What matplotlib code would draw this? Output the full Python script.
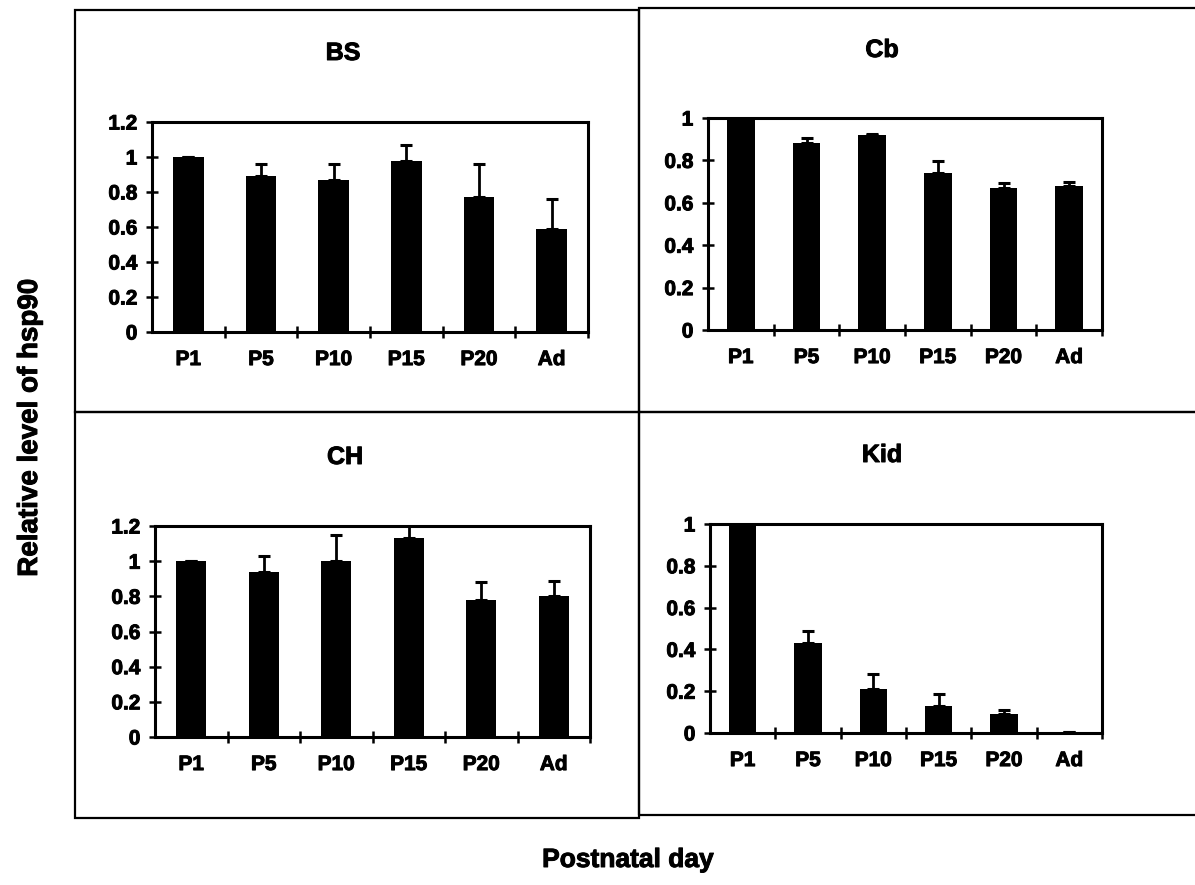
import matplotlib
matplotlib.use('Agg')
import matplotlib.pyplot as plt
import matplotlib.patheffects as pe
import numpy as np
from matplotlib.patches import Rectangle

plt.rcParams['font.family'] = ['Liberation Sans', 'DejaVu Sans']
plt.rcParams['font.weight'] = 'bold'

days = ['P1', 'P5', 'P10', 'P15', 'P20', 'Ad']

bs_vals = [1.0, 0.89, 0.87, 0.98, 0.77, 0.59]
bs_err = [0.0, 0.07, 0.09, 0.09, 0.19, 0.17]

cb_vals = [1.0, 0.88, 0.92, 0.74, 0.67, 0.68]
cb_err = [0.0, 0.025, 0.005, 0.055, 0.025, 0.02]

ch_vals = [1.0, 0.94, 1.0, 1.13, 0.78, 0.80]
ch_err = [0.0, 0.09, 0.15, 0.09, 0.10, 0.09]

kid_vals = [1.0, 0.43, 0.21, 0.13, 0.09, 0.005]
kid_err = [0.0, 0.06, 0.07, 0.055, 0.02, 0.0]

W, H = 1195, 885
fig = plt.figure(figsize=(W / 100, H / 100), dpi=100)


def px_axes(left, right, top, bottom):
    return fig.add_axes([left / W, 1 - bottom / H, (right - left) / W, (bottom - top) / H])


def box(left, right, top, bottom):
    fig.patches.append(Rectangle((left / W, 1 - bottom / H), (right - left) / W, (bottom - top) / H,
                                 transform=fig.transFigure, fill=False, edgecolor='black',
                                 linewidth=1.6))


box(75, 639, 10, 412)
box(639, 1198, 8, 412)
box(75, 639, 412, 818)
box(639, 1198, 412, 815)

# name, values, errors, y max, axes box in pixels, title position in pixels
panels = [
    ('BS', bs_vals, bs_err, 1.2, (152, 588, 122, 332), (343, 53)),
    ('Cb', cb_vals, cb_err, 1.0, (708, 1102, 118, 330), (882, 50)),
    ('CH', ch_vals, ch_err, 1.2, (155, 590, 526, 737), (345, 457)),
    ('Kid', kid_vals, kid_err, 1.0, (710, 1102, 524, 733), (882, 455)),
]

x = np.arange(len(days))
for name, vals, err, ymax, pos, tpos in panels:
    ax = px_axes(*pos)
    ax.bar(x, vals, width=0.42, color='black')
    ax.errorbar(x, vals, yerr=[np.zeros(len(err)), err], fmt='none', ecolor='black',
                elinewidth=2, capsize=4.5, capthick=2.2)
    ax.set_xlim(-0.5, len(days) - 0.5)
    ax.set_ylim(0, ymax)
    yt = np.arange(0, ymax + 0.01, 0.2)
    ax.set_yticks(yt)
    ax.set_yticklabels(['0' if v == 0 else ('1' if abs(v - 1) < 1e-9 else f'{v:.1f}') for v in yt])
    ax.set_xticks(np.arange(0.5, len(days) - 0.4, 1.0))
    ax.set_xticklabels([])
    ax.set_xticks(x, minor=True)
    ax.set_xticklabels(days, minor=True)
    ax.tick_params(axis='x', which='minor', length=0, pad=13, labelsize=15)
    ax.tick_params(axis='x', which='major', direction='inout', length=9, width=1.8)
    ax.tick_params(axis='y', direction='inout', length=9, width=1.8, pad=6, labelsize=15)
    for s in ax.spines.values():
        s.set_linewidth(2.2)
    fig.text(tpos[0] / W, 1 - tpos[1] / H, name, ha='center', va='center', fontsize=18,
             fontweight='bold')

fig.text(30 / W, 1 - 428 / H, 'Relative level of hsp90', rotation=90, ha='center', va='center',
         fontsize=20, fontweight='bold')
fig.text(628 / W, 1 - 860 / H, 'Postnatal day', ha='center', va='center', fontsize=19,
         fontweight='bold')

# the scanned lettering is heavy, thicken the glyphs a little
for t in fig.findobj(matplotlib.text.Text):
    t.set_path_effects([pe.withStroke(linewidth=0.7, foreground='black')])

fig.savefig('out.png', dpi=100)
